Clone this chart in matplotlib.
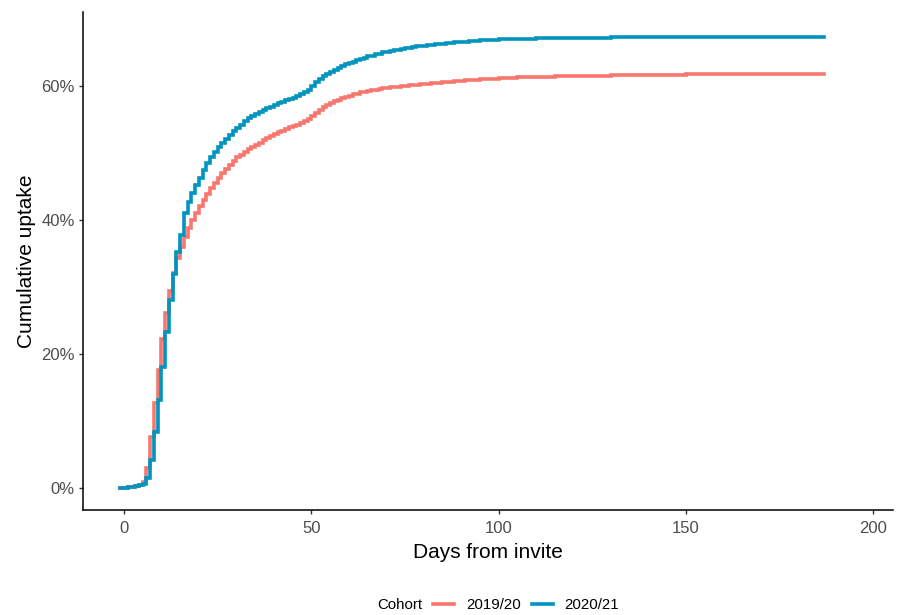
import matplotlib
matplotlib.use("Agg")
from matplotlib import pyplot as plt
from matplotlib.ticker import FuncFormatter

plt.rcParams['font.family'] = ['Liberation Sans', 'DejaVu Sans']

# days from invite (daily up to day 100, coarser once the curves are flat)
days = list(range(-1, 101)) + [105, 110, 115, 120, 130, 140, 150,
                               160, 170, 180, 187]

# cumulative uptake (%) per cohort
uptake_2019 = [
    0.0, 0.05, 0.1, 0.15, 0.25, 0.4, 0.9, 3.0, 7.6, 12.7,
    17.6, 22.2, 26.1, 29.3, 32.0, 34.3, 36.0, 37.5, 38.8, 40.0,
    41.0, 42.0, 42.9, 43.8, 44.7, 45.5, 46.3, 47.0, 47.6, 48.2,
    48.8, 49.3, 49.7, 50.1, 50.5, 50.8, 51.2, 51.5, 51.9, 52.2,
    52.5, 52.8, 53.1, 53.3, 53.6, 53.8, 54.0, 54.2, 54.4, 54.7,
    55.1, 55.5, 56.0, 56.4, 56.8, 57.1, 57.4, 57.7, 57.9, 58.1,
    58.3, 58.5, 58.7, 58.8, 59.0, 59.1, 59.2, 59.3, 59.4, 59.5,
    59.6, 59.7, 59.75, 59.8, 59.85, 59.9, 60.0, 60.05, 60.1, 60.15,
    60.2, 60.25, 60.3, 60.35, 60.4, 60.45, 60.5, 60.55, 60.6, 60.65,
    60.7, 60.75, 60.79, 60.83, 60.87, 60.91, 60.95, 60.98, 61.01, 61.04,
    61.07, 61.1,
    61.25, 61.35, 61.45, 61.5, 61.6, 61.65, 61.7, 61.75, 61.75, 61.8, 61.8]

uptake_2020 = [
    0.0, 0.05, 0.1, 0.2, 0.3, 0.4, 0.6, 1.5, 4.2, 8.4,
    13.1, 18.1, 23.3, 28.0, 31.9, 35.2, 37.8, 41.0, 42.6, 44.0,
    45.2, 46.3, 47.4, 48.4, 49.3, 50.1, 50.8, 51.5, 52.1, 52.7,
    53.2, 53.7, 54.2, 54.7, 55.2, 55.5, 55.8, 56.1, 56.4, 56.7,
    56.9, 57.1, 57.4, 57.6, 57.8, 58.0, 58.2, 58.4, 58.7, 59.0,
    59.4, 59.9, 60.5, 61.0, 61.4, 61.8, 62.1, 62.4, 62.7, 62.9,
    63.2, 63.4, 63.6, 63.8, 64.0, 64.2, 64.4, 64.5, 64.7, 64.8,
    65.0, 65.1, 65.2, 65.3, 65.4, 65.5, 65.6, 65.7, 65.8, 65.9,
    65.95, 66.0, 66.06, 66.12, 66.18, 66.24, 66.3, 66.35, 66.4, 66.45,
    66.5, 66.55, 66.59, 66.63, 66.67, 66.71, 66.75, 66.78, 66.81, 66.84,
    66.87, 66.9,
    67.0, 67.05, 67.1, 67.15, 67.2, 67.25, 67.25, 67.3, 67.3, 67.3, 67.3]

cohorts = ['2019/20', '2020/21']
colors = ['#F8766D', '#0094BF']

fig = plt.figure(figsize=[8.98, 6.15], dpi=100)
ax = fig.add_axes([83 / 898, 1 - 510 / 615, 810 / 898, 498 / 615])

lines = []
for vals, col, lab in zip([uptake_2019, uptake_2020], colors, cohorts):
    ln, = ax.step(days, vals, where='post', color=col, lw=2.6, label=lab,
                  solid_joinstyle='miter')
    lines.append(ln)

ax.set_xlim(-10.95, 205.3)
ax.set_ylim(-3.3, 71.0)
ax.set_xticks([0, 50, 100, 150, 200])
ax.set_yticks([0, 20, 40, 60])
ax.yaxis.set_major_formatter(FuncFormatter(lambda v, p: '%d%%' % v))

# classic theme: only left / bottom axis lines
for s in ['top', 'right']:
    ax.spines[s].set_visible(False)
for s in ['left', 'bottom']:
    ax.spines[s].set_linewidth(1.1)
    ax.spines[s].set_color('black')
ax.tick_params(length=3, width=1, color='#333333', labelcolor='#4D4D4D',
               labelsize=12)
ax.tick_params(axis='x', pad=5)
ax.tick_params(axis='y', pad=3)

ax.set_xlabel('Days from invite', fontsize=15, labelpad=5)
ax.set_ylabel('Cumulative uptake', fontsize=15, labelpad=4)

# legend at bottom with the title inline
fig.text(377 / 898, 1 - 605 / 615, 'Cohort', fontsize=10.8, ha='left', va='center')
fig.legend(handles=lines, loc='center left', bbox_to_anchor=(433 / 898, 1 - 605 / 615),
           ncol=2, frameon=False, fontsize=10.8, handlelength=1.4,
           handletextpad=0.8, columnspacing=0.73, borderpad=0, borderaxespad=0)

fig.savefig('out.png', dpi=100)
